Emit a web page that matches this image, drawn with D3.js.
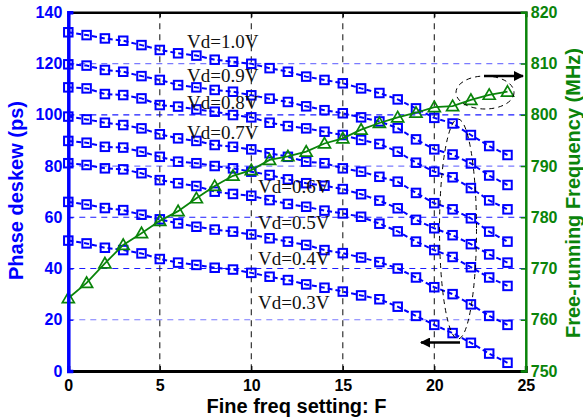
<!DOCTYPE html>
<html>
<head>
<meta charset="utf-8">
<script src="https://cdn.jsdelivr.net/npm/d3@7"></script>
<style>
html,body{margin:0;padding:0;background:#fff;}
svg{display:block;}
</style>
</head>
<body>
<svg id="chart" width="583" height="419"></svg>
<script>
// ---------- data ----------
const fineSetting = [0,1,2,3,4,5,6,7,8,9,10,11,12,13,14,15,16,17,18,19,20,21,22,23,24];
const vdLabels = ["Vd=1.0V","Vd=0.9V","Vd=0.8V","Vd=0.7V","Vd=0.6V","Vd=0.5V","Vd=0.4V","Vd=0.3V"];
const deskewVd10 = [132.2,131.1,129.8,128.9,127.2,125.3,124.0,123.1,121.5,120.7,119.9,118.2,116.8,114.9,113.6,112.3,110.3,108.5,106.0,102.5,98.8,96.6,92.1,87.8,84.3];
const deskewVd09 = [119.7,119.2,117.5,116.8,115.1,113.6,111.6,110.7,109.7,109.0,107.6,106.3,105.0,103.3,101.8,100.6,99.0,97.4,94.8,90.4,86.5,84.5,81.0,76.3,72.6];
const deskewVd08 = [110.7,110.3,108.1,107.7,106.4,103.8,103.2,102.1,101.2,99.9,99.0,96.9,95.6,94.7,93.4,92.1,90.2,88.6,85.6,81.3,77.8,75.6,71.4,66.6,63.1];
const deskewVd07 = [99.3,98.2,96.9,96.0,94.7,92.4,90.8,89.8,88.2,87.5,86.5,85.0,83.6,81.7,81.1,79.1,77.8,75.8,73.9,69.5,65.5,63.1,59.6,54.4,50.5];
const deskewVd06 = [89.8,89.1,87.5,87.2,85.6,83.6,81.7,81.1,80.0,79.1,77.8,76.5,74.8,73.3,72.3,71.0,69.0,66.5,63.5,59.0,55.7,53.0,49.5,45.5,42.3];
const deskewVd05 = [81.1,80.4,79.1,78.7,77.2,74.5,73.3,72.2,70.0,69.1,68.4,66.7,65.2,64.1,62.6,61.5,60.2,57.5,54.5,50.5,47.2,44.5,40.5,36.5,33.2];
const deskewVd04 = [66.0,65.0,63.6,62.8,61.0,59.2,57.6,56.3,55.2,54.4,53.3,51.8,50.5,49.2,47.2,46.0,44.3,42.5,40.0,36.5,32.7,30.0,26.0,21.5,18.0];
const deskewVd03 = [50.9,49.8,48.1,47.2,45.9,43.7,42.3,41.4,40.3,39.6,38.3,36.8,35.5,33.8,32.5,31.0,29.5,28.0,25.1,21.5,18.0,14.8,11.0,6.8,3.2];
const freqMHz = [764.2,767.2,771.0,774.6,776.9,779.3,781.2,783.7,786.1,788.1,789.2,791.2,791.9,792.8,794.4,795.4,797.1,798.4,799.5,800.4,801.5,801.7,802.9,803.9,804.5];
const xTicks = [0,5,10,15,20,25];
const yLeftTicks = [0,20,40,60,80,100,120,140];
const yRightTicks = [750,760,770,780,790,800,810,820];
const labelAnchors = [[187,48],[187,81.5],[187,108.5],[187,138.5],[258,192.5],[258,228.5],[258,265],[258,308.5]];

const deskewSeries = [deskewVd10,deskewVd09,deskewVd08,deskewVd07,deskewVd06,deskewVd05,deskewVd04,deskewVd03];

// ---------- layout ----------
const BLUE = "#0000ff", GREEN = "#0a840a";
const svg = d3.select("#chart");
const x = d3.scaleLinear().domain([0,25]).range([68.3,525.8]);
const yL = d3.scaleLinear().domain([0,140]).range([371,12.3]);
const yR = d3.scaleLinear().domain([750,820]).range([371,12.3]);
const [x0,x1] = x.range(), [yb,yt] = yL.range();

// grid
const gGrid = svg.append("g");
gGrid.selectAll("line.hg").data([20,40,60,80,100,120]).join("line")
  .attr("x1",x0).attr("x2",x1).attr("y1",d=>yL(d)).attr("y2",d=>yL(d))
  .attr("stroke",d=>(d===40||d===60||d===100)?"#1a1aff":"#7a7aff").attr("stroke-width",1.2)
  .attr("stroke-dasharray","6,5");
gGrid.selectAll("line.vg").data([5,10,15,20]).join("line")
  .attr("x1",d=>x(d)).attr("x2",d=>x(d)).attr("y1",yt).attr("y2",yb)
  .attr("stroke","#222").attr("stroke-width",1.1).attr("stroke-dasharray","6,5");

// blue deskew series
const lineL = d3.line().x((d,i)=>x(fineSetting[i])).y(d=>yL(d));
const gS = svg.append("g");
deskewSeries.forEach(s=>{
  gS.append("path").attr("d",lineL(s)).attr("fill","none").attr("stroke",BLUE)
    .attr("stroke-width",2).attr("stroke-dasharray","5,3");
  gS.selectAll(null).data(s).join("rect")
    .attr("x",(d,i)=>x(fineSetting[i])-4.25).attr("y",d=>yL(d)-4.25)
    .attr("width",8.5).attr("height",8.5).attr("fill","none")
    .attr("stroke",BLUE).attr("stroke-width",2);
});

// green frequency series
const lineR = d3.line().x((d,i)=>x(fineSetting[i])).y(d=>yR(d));
svg.append("path").attr("d",lineR(freqMHz)).attr("fill","none").attr("stroke",GREEN).attr("stroke-width",1.8);
const tri = d3.symbol().type(d3.symbolTriangle).size(62);
svg.selectAll("path.tri").data(freqMHz).join("path")
  .attr("d",tri).attr("transform",(d,i)=>`translate(${x(fineSetting[i])},${yR(d)+1})`)
  .attr("fill","none").attr("stroke",GREEN).attr("stroke-width",1.7);

// Vd labels
svg.selectAll("text.vd").data(vdLabels).join("text")
  .attr("x",(d,i)=>labelAnchors[i][0]).attr("y",(d,i)=>labelAnchors[i][1])
  .attr("font-family","'Liberation Serif','Times New Roman',serif").attr("font-size",19)
  .attr("fill","#111").text(d=>d);

// annotations
svg.append("defs").append("marker").attr("id","ah").attr("viewBox","0 0 10 10")
  .attr("refX",9).attr("refY",5).attr("markerWidth",5).attr("markerHeight",4)
  .attr("markerUnits","strokeWidth").attr("orient","auto")
  .append("path").attr("d","M0,0 L10,5 L0,10 z").attr("fill","#000");
svg.append("ellipse").attr("cx",485).attr("cy",92.5).attr("rx",29).attr("ry",16.5)
  .attr("fill","none").attr("stroke","#000").attr("stroke-width",1).attr("stroke-dasharray","5,4");
svg.append("line").attr("x1",484).attr("y1",76).attr("x2",523).attr("y2",76)
  .attr("stroke","#000").attr("stroke-width",2.5).attr("marker-end","url(#ah)");
svg.append("ellipse").attr("cx",458).attr("cy",229).attr("rx",18.5).attr("ry",110)
  .attr("fill","none").attr("stroke","#000").attr("stroke-width",1).attr("stroke-dasharray","5,4");
svg.append("line").attr("x1",460).attr("y1",342.5).attr("x2",421).attr("y2",342.5)
  .attr("stroke","#000").attr("stroke-width",2.5).attr("marker-end","url(#ah)");

// axes
const font = "'Liberation Sans',Arial,sans-serif";
const axB = svg.append("g").attr("transform",`translate(0,${yb})`)
  .call(d3.axisBottom(x).tickValues(xTicks).tickSize(-5).tickPadding(9).tickFormat(d3.format("d")));
axB.select(".domain").attr("stroke","#000").attr("stroke-width",3);
axB.selectAll(".tick line").attr("stroke","#000").attr("stroke-width",1.2);
axB.selectAll("text").attr("font-family",font).attr("font-weight","bold").attr("font-size",16).attr("fill","#000");

const axT = svg.append("g").attr("transform",`translate(0,${yt})`)
  .call(d3.axisTop(x).tickValues(xTicks).tickSize(-5).tickFormat(""));
axT.select(".domain").attr("stroke","#000").attr("stroke-width",2.5);
axT.selectAll(".tick line").attr("stroke","#000").attr("stroke-width",1.2);

const axL = svg.append("g").attr("transform",`translate(${x0},0)`)
  .call(d3.axisLeft(yL).tickValues(yLeftTicks).tickSize(-5).tickPadding(6).tickFormat(d3.format("d")));
axL.select(".domain").attr("stroke",BLUE).attr("stroke-width",3.5);
axL.selectAll(".tick line").attr("stroke",BLUE).attr("stroke-width",1.2);
axL.selectAll("text").attr("font-family",font).attr("font-weight","bold").attr("font-size",16).attr("fill",BLUE);

const axR = svg.append("g").attr("transform",`translate(${x1},0)`)
  .call(d3.axisRight(yR).tickValues(yRightTicks).tickSize(-5).tickPadding(5).tickFormat(d3.format("d")));
axR.select(".domain").attr("stroke",GREEN).attr("stroke-width",2.5);
axR.selectAll(".tick line").attr("stroke",GREEN).attr("stroke-width",1.5);
axR.selectAll("text").attr("font-family",font).attr("font-weight","bold").attr("font-size",16).attr("fill",GREEN);

// titles
svg.append("text").attr("x",296.5).attr("y",413).attr("text-anchor","middle")
  .attr("font-family",font).attr("font-weight","bold").attr("font-size",20).attr("fill","#000")
  .text("Fine freq setting: F");
svg.append("text").attr("transform","translate(23,190.5) rotate(-90)").attr("text-anchor","middle")
  .attr("font-family",font).attr("font-weight","bold").attr("font-size",20).attr("fill",BLUE)
  .text("Phase deskew (ps)");
svg.append("text").attr("transform","translate(580,193) rotate(-90)").attr("text-anchor","middle")
  .attr("font-family",font).attr("font-weight","bold").attr("font-size",20).attr("fill",GREEN)
  .text("Free-running Frequency (MHz)");
</script>
</body>
</html>
